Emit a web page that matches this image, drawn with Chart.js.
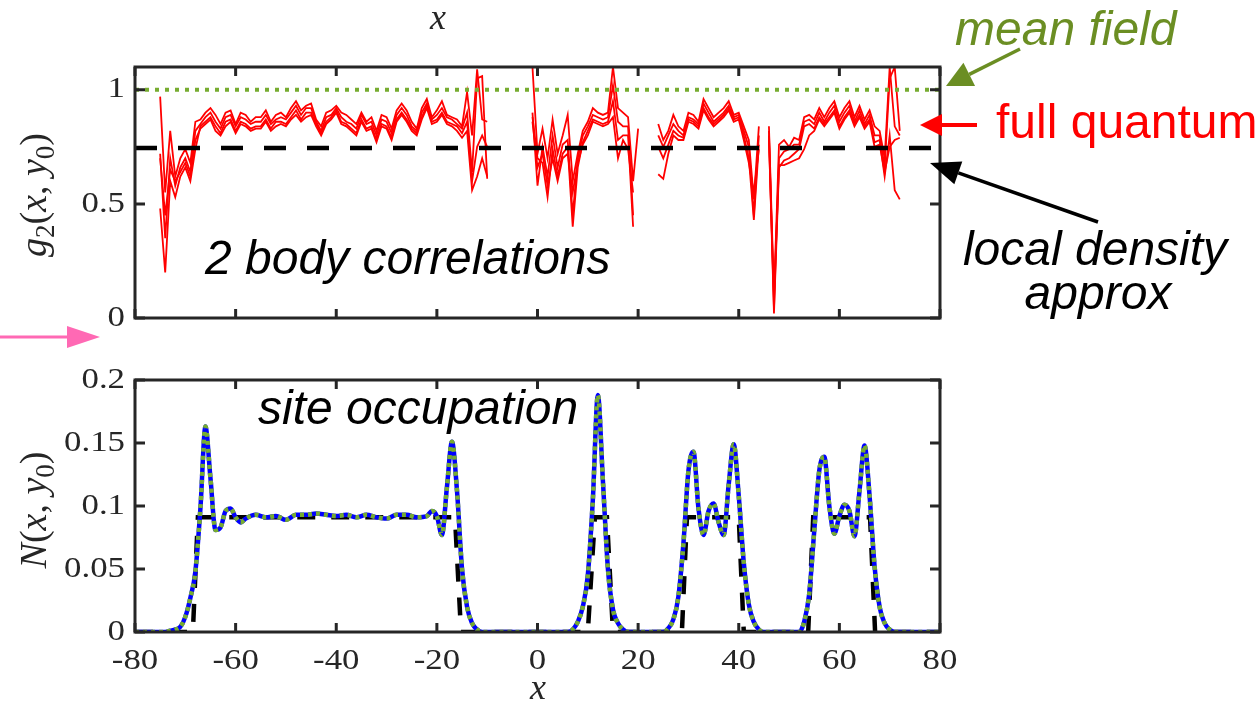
<!DOCTYPE html>
<html>
<head>
<meta charset="utf-8">
<script src="https://cdn.jsdelivr.net/npm/chart.js@4.4.0/dist/chart.umd.min.js"></script>
<style>
  html, body { margin: 0; padding: 0; background: #fff; overflow: hidden; }
  #wrap { position: relative; width: 1258px; height: 705px; }
  canvas { position: absolute; left: 0; }
  #g2Chart { top: 0; }
  #nChart { top: 350px; }
</style>
</head>
<body>
<div id="wrap">
  <canvas id="g2Chart" width="1258" height="350"></canvas>
  <canvas id="nChart" width="1258" height="355"></canvas>
</div>
<script>
// ---------- tick labels ----------
const xTicks = [-80, -60, -40, -20, 0, 20, 40, 60, 80];
const g2Ticks = [0, 0.5, 1];
const nTicks = [0, 0.05, 0.1, 0.15, 0.2];

// ---------- top panel: g2(x, y0) ----------
// flat references
const flatX = [-80, 80];
const g2MeanField = [1, 1];
const g2Lda = [0.745, 0.745];

// full quantum, four runs (null = no data / gap)
const g2X = [
  -75, -74, -73, -72, -71, -70, -69, -68, -67, -66, -65, -64, -63, -62, -61, -60, -59, -58, -57, -56, -55, -54,
  -53, -52, -51, -50, -49, -48, -47, -46, -45, -44, -43, -42, -41, -40, -39, -38, -37, -36, -35, -34, -33, -32,
  -31, -30, -29, -28, -27, -26, -25, -24, -23, -22, -21, -20, -19, -18, -17, -16, -15, -14, -13, -12, -11, -10,
  -5,
  -1, 0, 1, 2, 3, 4, 5, 6, 7, 8, 9, 10, 11, 12, 13, 14, 15, 16, 17, 18, 19, 20,
  22,
  24, 25, 26, 27, 28, 29, 30, 31, 32, 33, 34, 35, 36, 37, 38, 39, 40, 41, 42, 43, 44,
  45,
  46, 47, 48, 49, 50, 51, 52, 53, 54, 55, 56, 57, 58, 59, 60, 61, 62, 63, 64, 65, 66, 67, 68, 69, 70, 71, 72
];
const g2RunA = [
  0.97, 0.55, 0.82, 0.62, 0.70, 0.74, 0.68, 0.86, 0.87, 0.90, 0.92, 0.89, 0.85, 0.90, 0.91, 0.85, 0.90, 0.89, 0.86, 0.88, 0.88, 0.91,
  0.86, 0.89, 0.90, 0.88, 0.92, 0.95, 0.91, 0.93, 0.94, 0.87, 0.84, 0.90, 0.91, 0.93, 0.90, 0.89, 0.87, 0.85, 0.90, 0.86, 0.88, 0.82,
  0.89, 0.88, 0.83, 0.91, 0.94, 0.91, 0.86, 0.83, 0.92, 0.96, 0.88, 0.91, 0.95, 0.89, 0.88, 0.87, 0.84, 0.99, 0.80, 1.09, 0.87, 0.86,
  null,
  1.10, 0.72, 0.83, 0.70, 0.87, 0.72, 0.80, 0.89, 0.60, 0.72, 0.82, 0.86, 0.92, 0.90, 0.89, 0.90, 1.10, 0.92, 0.90, 0.88, 0.60, 0.83,
  null,
  0.85, 0.78, 0.82, 0.89, 0.84, 0.82, 0.90, 0.89, 0.86, 0.96, 0.92, 0.88, 0.90, 0.92, 0.95, 0.89, 0.90, 0.84, 0.78, 0.52, 0.84,
  null,
  0.84, 0.10, 0.76, 0.78, 0.75, 0.79, 0.78, 0.88, 0.89, 0.87, 0.92, 0.88, 0.92, 0.95, 0.88, 0.92, 0.95, 0.88, 0.93, 0.87, 0.91, 0.84, 0.82, 0.70, 1.10, 0.84, 0.80
];
const g2RunB = [
  0.72, 0.35, 0.70, 0.58, 0.66, 0.70, 0.64, 0.82, 0.85, 0.88, 0.90, 0.86, 0.83, 0.88, 0.89, 0.84, 0.88, 0.87, 0.85, 0.86, 0.86, 0.89,
  0.85, 0.87, 0.88, 0.87, 0.90, 0.93, 0.89, 0.92, 0.92, 0.86, 0.82, 0.88, 0.89, 0.92, 0.88, 0.86, 0.85, 0.83, 0.89, 0.85, 0.86, 0.80,
  0.87, 0.86, 0.81, 0.89, 0.92, 0.89, 0.84, 0.82, 0.90, 0.94, 0.87, 0.89, 0.92, 0.88, 0.87, 0.85, 0.83, 0.90, 0.64, 1.05, 1.06, 0.61,
  null,
  0.90, 0.58, 0.75, 0.62, 0.80, 0.66, 0.76, 0.78, 0.45, 0.70, 0.80, 0.84, 0.89, 0.88, 0.87, 0.88, 1.02, 0.86, 0.84, 0.84, 0.45, null,
  null,
  0.80, 0.75, 0.80, 0.85, 0.82, 0.80, 0.88, 0.87, 0.85, 0.94, 0.90, 0.86, 0.88, 0.90, 0.93, 0.88, 0.89, 0.82, 0.75, 0.45, 0.80,
  null,
  0.82, 0.04, 0.70, 0.73, 0.74, 0.76, 0.76, 0.86, 0.87, 0.85, 0.90, 0.86, 0.90, 0.93, 0.86, 0.90, 0.93, 0.86, 0.91, 0.85, 0.89, 0.80, 0.80, 0.66, 1.05, 1.10, 0.82
];
const g2RunC = [
  0.48, 0.20, 0.60, 0.53, 0.62, 0.66, 0.60, 0.74, 0.84, 0.86, 0.88, 0.84, 0.81, 0.86, 0.87, 0.82, 0.86, 0.85, 0.83, 0.84, 0.84, 0.87,
  0.83, 0.86, 0.86, 0.85, 0.88, 0.91, 0.87, 0.90, 0.90, 0.85, 0.81, 0.86, 0.88, 0.91, 0.86, 0.85, 0.83, 0.81, 0.87, 0.83, 0.84, 0.78,
  0.85, 0.84, 0.79, 0.87, 0.90, 0.87, 0.83, 0.81, 0.88, 0.93, 0.86, 0.87, 0.90, 0.86, 0.85, 0.84, 0.81, 0.86, 0.60, 0.75, 0.80, 0.75,
  null,
  0.88, 0.70, 0.68, 0.53, 0.74, 0.62, 0.72, 0.75, 0.40, 0.66, 0.77, 0.82, 0.87, 0.86, 0.85, 0.86, 0.95, 0.78, 0.80, 0.80, 0.40, null,
  null,
  0.75, 0.70, 0.76, 0.82, 0.80, 0.79, 0.87, 0.86, 0.84, 0.92, 0.88, 0.85, 0.87, 0.89, 0.92, 0.87, 0.88, 0.80, 0.70, 0.43, 0.76,
  null,
  0.80, 0.02, 0.66, 0.69, 0.70, 0.72, 0.74, 0.84, 0.85, 0.83, 0.88, 0.85, 0.88, 0.91, 0.84, 0.88, 0.91, 0.85, 0.89, 0.84, 0.87, 0.77, 0.78, 0.62, 0.80, 0.56, 0.52
];
const g2RunD = [
  0.70, 0.45, 0.65, 0.60, 0.64, 0.68, 0.62, 0.78, 0.83, 0.85, 0.87, 0.82, 0.80, 0.84, 0.86, 0.81, 0.85, 0.84, 0.82, 0.83, 0.83, 0.86,
  0.82, 0.84, 0.85, 0.84, 0.87, 0.89, 0.86, 0.88, 0.89, 0.84, 0.80, 0.85, 0.87, 0.90, 0.85, 0.84, 0.82, 0.80, 0.86, 0.82, 0.83, 0.77,
  0.84, 0.83, 0.78, 0.86, 0.89, 0.86, 0.82, 0.80, 0.87, 0.92, 0.85, 0.86, 0.89, 0.85, 0.84, 0.82, 0.79, 0.82, 0.56, 0.62, 0.70, 0.62,
  null,
  0.86, 0.66, 0.72, 0.58, 0.70, 0.60, 0.70, 0.72, 0.55, 0.68, 0.76, 0.80, 0.86, 0.85, 0.84, 0.85, 0.88, 0.70, 0.78, 0.74, 0.55, null,
  null,
  0.63, 0.61, 0.72, 0.80, 0.78, 0.78, 0.86, 0.85, 0.83, 0.91, 0.87, 0.84, 0.86, 0.88, 0.91, 0.86, 0.87, 0.78, 0.68, 0.55, 0.74,
  null,
  0.78, 0.08, 0.67, 0.67, 0.68, 0.69, 0.70, 0.74, 0.80, 0.82, 0.87, 0.84, 0.87, 0.90, 0.83, 0.87, 0.90, 0.84, 0.88, 0.83, 0.86, 0.75, 0.76, 0.64, 0.75, 0.78, 0.79
];

// ---------- bottom panel: N(x, y0) ----------
const nX = [
  -80, -74, -73, -72, -71, -70, -69, -68, -67, -66, -65, -64, -63, -62, -61, -60, -59, -58,
  -56, -54, -52, -50, -48, -46, -44, -42, -40, -38, -36, -34, -32, -30, -28, -26, -24, -22,
  -21, -20, -19, -18, -17, -16, -15, -14, -13, -12, -11,
  0, 6, 7, 8, 9, 10, 11, 12, 13, 14, 15, 16, 17, 18,
  25, 26, 27, 28, 29, 30, 31, 32, 33, 34, 35, 36, 37, 38, 39, 40, 41, 42, 43, 44, 45,
  52, 53, 54, 55, 56, 57, 58, 59, 60, 61, 62, 63, 64, 65, 66, 67, 68, 69, 70, 71, 80
];
const nQuantum = [
  0, 0, 0.001, 0.002, 0.004, 0.012, 0.027, 0.048, 0.098, 0.163, 0.122, 0.081, 0.083, 0.096, 0.098, 0.091, 0.087, 0.090,
  0.093, 0.091, 0.092, 0.089, 0.093, 0.093, 0.094, 0.093, 0.092, 0.093, 0.091, 0.093, 0.091, 0.090, 0.093, 0.093, 0.091, 0.092,
  0.096, 0.092, 0.077, 0.115, 0.151, 0.112, 0.050, 0.020, 0.007, 0.002, 0,
  0, 0, 0.002, 0.008, 0.020, 0.045, 0.105, 0.188, 0.120, 0.050, 0.018, 0.007, 0.002, 0,
  0, 0.003, 0.010, 0.028, 0.070, 0.128, 0.143, 0.098, 0.077, 0.096, 0.102, 0.087, 0.077, 0.117, 0.149, 0.108, 0.055, 0.022, 0.008, 0.002, 0,
  0, 0.008, 0.030, 0.080, 0.128, 0.139, 0.100, 0.078, 0.092, 0.101, 0.096, 0.076, 0.112, 0.148, 0.108, 0.052, 0.020, 0.007, 0.002, 0, 0
];
// mean-field profile lies on top of the full quantum one in the figure
const nMeanField = nQuantum;

// local density approximation, step profile
const ldaX = [-80, -68.5, -67.5, -16.4, -15.2, 10, 11.4, 13.8, 15, 28.7, 29.7, 40, 41, 53.8, 54.8, 66.1, 67.1, 80];
const ldaN = [0, 0, 0.091, 0.091, 0, 0, 0.091, 0.091, 0, 0, 0.091, 0.091, 0, 0, 0.091, 0.091, 0, 0];

// ---------- helpers ----------
const axisColor = '#262626';
const serif = '"Liberation Serif", "DejaVu Serif", serif';
const sans = '"Liberation Sans", Arial, sans-serif';

function pts(xs, ys) {
  return xs.map((x, i) => ({ x: x, y: ys[i] }));
}

function stretchText(ctx, text, x, y, align, sx) {
  ctx.save();
  ctx.translate(x, y);
  ctx.scale(sx, 1);
  ctx.textAlign = align;
  ctx.fillText(text, 0, 0);
  ctx.restore();
}

// math-ish label: parts = [text, 'i' italic | 'r' roman | 's' subscript]
function drawMath(ctx, parts, x, y, size, vertical) {
  const fontFor = st => (st === 'i' ? 'italic ' : '') + Math.round(st === 's' ? size * 0.7 : size) + 'px ' + serif;
  ctx.save();
  ctx.translate(x, y);
  if (vertical) ctx.rotate(-Math.PI / 2);
  ctx.textAlign = 'left';
  ctx.textBaseline = 'alphabetic';
  ctx.fillStyle = axisColor;
  let total = 0;
  parts.forEach(p => { ctx.font = fontFor(p[1]); total += ctx.measureText(p[0]).width; });
  let cx = -total / 2;
  parts.forEach(p => {
    ctx.font = fontFor(p[1]);
    ctx.fillText(p[0], cx, p[1] === 's' ? size * 0.22 : 0);
    cx += ctx.measureText(p[0]).width;
  });
  ctx.restore();
}

function arrow(ctx, x1, y1, x2, y2, color, lw, headLen, headW) {
  const ang = Math.atan2(y2 - y1, x2 - x1);
  const bx = x2 - headLen * Math.cos(ang), by = y2 - headLen * Math.sin(ang);
  ctx.save();
  ctx.strokeStyle = color;
  ctx.fillStyle = color;
  ctx.lineWidth = lw;
  ctx.beginPath();
  ctx.moveTo(x1, y1);
  ctx.lineTo(bx, by);
  ctx.stroke();
  ctx.beginPath();
  ctx.moveTo(x2, y2);
  ctx.lineTo(bx + headW * Math.sin(ang), by - headW * Math.cos(ang));
  ctx.lineTo(bx - headW * Math.sin(ang), by + headW * Math.cos(ang));
  ctx.closePath();
  ctx.fill();
  ctx.restore();
}

// box with inward ticks on all four sides (matlab style)
function drawFrame(chart, yTicks, xLabels) {
  const ctx = chart.ctx, a = chart.chartArea;
  const xs = chart.scales.x, ys = chart.scales.y;
  ctx.save();
  ctx.strokeStyle = axisColor;
  ctx.lineWidth = 3;
  ctx.beginPath();
  xTicks.forEach(v => {
    const p = xs.getPixelForValue(v);
    ctx.moveTo(p, a.bottom); ctx.lineTo(p, a.bottom - 9);
    ctx.moveTo(p, a.top); ctx.lineTo(p, a.top + 9);
  });
  yTicks.forEach(v => {
    const p = ys.getPixelForValue(v);
    ctx.moveTo(a.left, p); ctx.lineTo(a.left + 10, p);
    ctx.moveTo(a.right, p); ctx.lineTo(a.right - 10, p);
  });
  ctx.stroke();
  ctx.strokeRect(a.left, a.top, a.right - a.left, a.bottom - a.top);

  ctx.fillStyle = axisColor;
  ctx.font = '29px ' + serif;
  ctx.textBaseline = 'middle';
  yTicks.forEach(v => {
    stretchText(ctx, String(+v.toFixed(3)), a.left - 10, ys.getPixelForValue(v), 'right', 1.2);
  });
  if (xLabels) {
    xTicks.forEach(v => {
      stretchText(ctx, String(v), xs.getPixelForValue(v), a.bottom + 29, 'center', 1.2);
    });
  }
  ctx.restore();
}

const topDecor = {
  id: 'topDecor',
  afterDraw(chart) {
    const ctx = chart.ctx;
    drawFrame(chart, g2Ticks, false);
    drawMath(ctx, [['x', 'i']], 438, 29, 36, false);
    drawMath(ctx, [['g', 'i'], ['2', 's'], ['(', 'r'], ['x', 'i'], [', ', 'r'], ['y', 'i'], ['0', 's'], [')', 'r']], 46, 195, 38, true);

    ctx.save();
    ctx.textBaseline = 'alphabetic';
    ctx.font = 'italic 48px ' + sans;
    ctx.fillStyle = '#000';
    ctx.textAlign = 'left';
    ctx.fillText('2 body correlations', 205, 274);
    ctx.textAlign = 'center';
    ctx.fillText('local density', 1095, 265);
    ctx.fillText('approx', 1098, 309);
    ctx.textAlign = 'left';
    ctx.fillStyle = '#6B8E23';
    ctx.fillText('mean field', 955, 45);
    ctx.font = '48px ' + sans;
    ctx.fillStyle = '#FF0000';
    ctx.fillText('full quantum', 996, 138);
    ctx.restore();

    arrow(ctx, 1020, 49, 946, 86, '#6B8E23', 3.5, 26, 13);
    arrow(ctx, 977, 125, 920, 125, '#FF0000', 4, 22, 11);
    arrow(ctx, 1098, 222, 930, 163, '#000000', 3.5, 30, 12);
    arrow(ctx, 0, 337, 100, 337, '#FF69B4', 3, 33, 11);
  }
};

const bottomDecor = {
  id: 'bottomDecor',
  afterDraw(chart) {
    const ctx = chart.ctx;
    drawFrame(chart, nTicks, true);
    drawMath(ctx, [['x', 'i']], 538, 349, 36, false);
    drawMath(ctx, [['N', 'i'], ['(', 'r'], ['x', 'i'], [', ', 'r'], ['y', 'i'], ['0', 's'], [')', 'r']], 46, 160, 38, true);

    ctx.save();
    ctx.textBaseline = 'alphabetic';
    ctx.font = 'italic 48px ' + sans;
    ctx.fillStyle = '#000';
    ctx.textAlign = 'left';
    ctx.fillText('site occupation', 258, 74);
    ctx.restore();
  }
};

const baseOptions = (pad, yMax) => ({
  responsive: false,
  animation: false,
  devicePixelRatio: 1,
  events: [],
  layout: { padding: pad, autoPadding: false },
  scales: {
    x: { type: 'linear', min: -80, max: 80, display: false },
    y: { type: 'linear', min: 0, max: yMax, display: false }
  },
  elements: { point: { radius: 0 } },
  plugins: { legend: { display: false }, tooltip: { enabled: false } }
});

const redLine = (label, ys) => ({
  label: label,
  data: pts(g2X, ys),
  borderColor: 'rgb(255, 0, 0)',
  borderWidth: 1.8,
  tension: 0,
  spanGaps: false
});

new Chart(document.getElementById('g2Chart'), {
  type: 'line',
  data: {
    datasets: [
      { label: 'local density approx', data: pts(flatX, g2Lda), borderColor: '#000', borderWidth: 4.5, borderDash: [22, 21] },
      { label: 'mean field', data: pts(flatX, g2MeanField), borderColor: '#77AC30', borderWidth: 4, borderDash: [4, 6] },
      redLine('full quantum A', g2RunA),
      redLine('full quantum B', g2RunB),
      redLine('full quantum C', g2RunC),
      redLine('full quantum D', g2RunD)
    ]
  },
  options: baseOptions({ left: 135, top: 67, right: 318, bottom: 32 }, 1.1),
  plugins: [topDecor]
});

new Chart(document.getElementById('nChart'), {
  type: 'line',
  data: {
    datasets: [
      { label: 'mean field', data: pts(nX, nMeanField), borderColor: '#77AC30', borderWidth: 4.5, borderDash: [4, 4], cubicInterpolationMode: 'monotone' },
      { label: 'full quantum', data: pts(nX, nQuantum), borderColor: '#0000FF', borderWidth: 4.5, cubicInterpolationMode: 'monotone' },
      { label: 'local density approx', data: pts(ldaX, ldaN), borderColor: '#000', borderWidth: 4.5, borderDash: [18, 16], tension: 0 }
    ]
  },
  options: baseOptions({ left: 135, top: 30, right: 318, bottom: 73 }, 0.2),
  plugins: [bottomDecor]
});
</script>
</body>
</html>
